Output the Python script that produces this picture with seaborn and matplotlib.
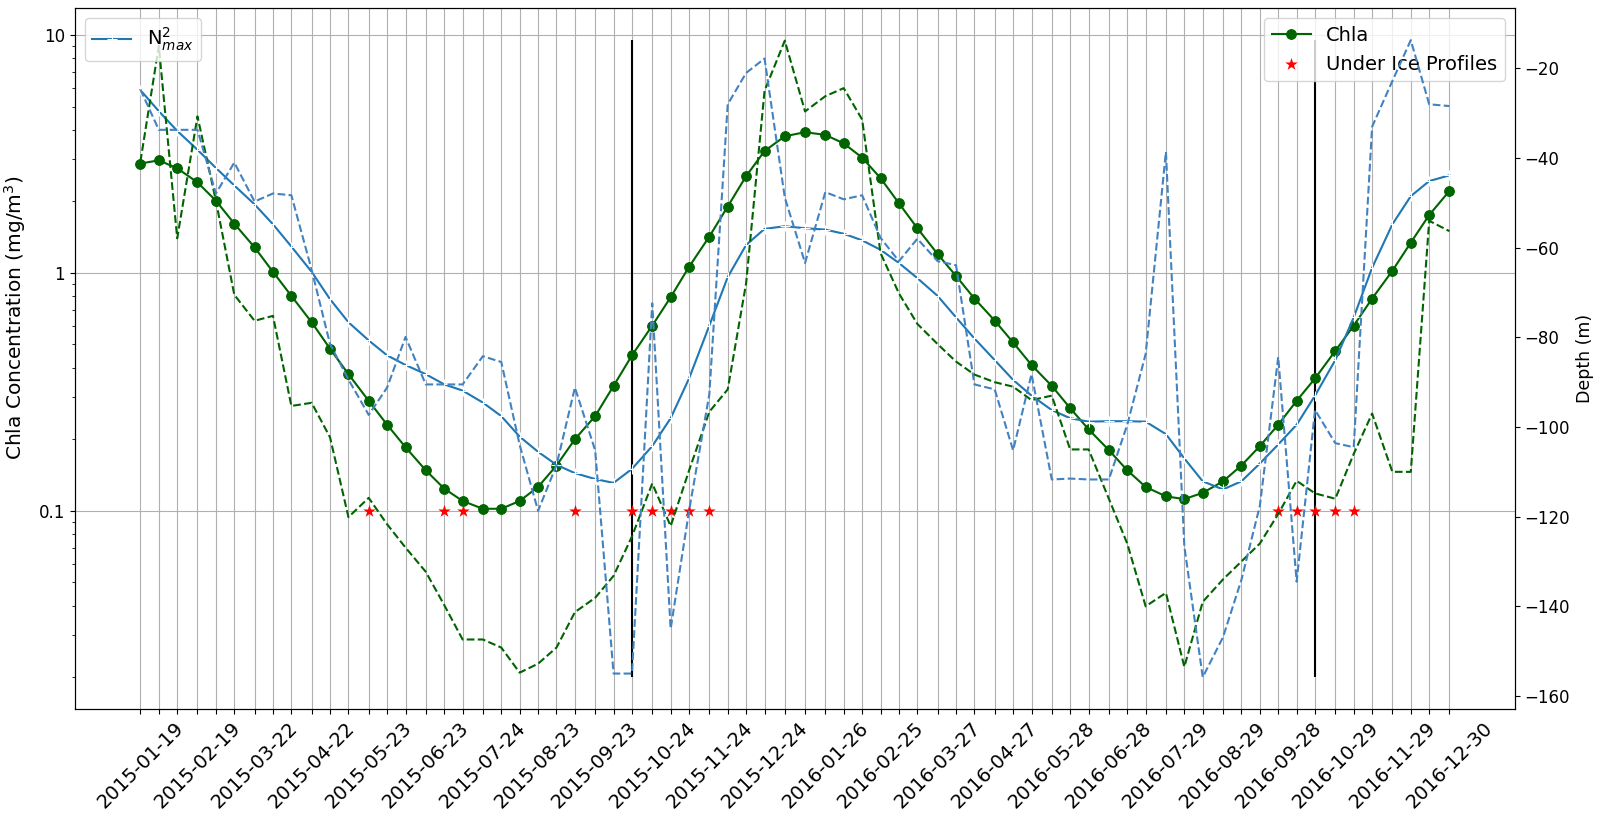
import matplotlib
matplotlib.use("Agg")
import matplotlib.pyplot as plt
import matplotlib.ticker as mticker
import numpy as np
import pandas as pd
import seaborn as sns

# Sampling dates of the float profiles
dates = pd.to_datetime([
    "2015-01-19", "2015-01-29", "2015-02-08", "2015-02-19", "2015-03-01", "2015-03-11",
    "2015-03-22", "2015-04-01", "2015-04-11", "2015-04-22", "2015-05-02", "2015-05-12",
    "2015-05-23", "2015-06-02", "2015-06-12", "2015-06-23", "2015-07-03", "2015-07-13",
    "2015-07-24", "2015-08-03", "2015-08-13", "2015-08-23", "2015-09-02", "2015-09-12",
    "2015-09-23", "2015-10-03", "2015-10-13", "2015-10-24", "2015-11-03", "2015-11-13",
    "2015-11-24", "2015-12-04", "2015-12-14", "2015-12-24", "2016-01-04", "2016-01-15",
    "2016-01-26", "2016-02-05", "2016-02-15", "2016-02-25", "2016-03-06", "2016-03-16",
    "2016-03-27", "2016-04-06", "2016-04-16", "2016-04-27", "2016-05-07", "2016-05-17",
    "2016-05-28", "2016-06-07", "2016-06-17", "2016-06-28", "2016-07-08", "2016-07-18",
    "2016-07-29", "2016-08-08", "2016-08-18", "2016-08-29", "2016-09-08", "2016-09-18",
    "2016-09-28", "2016-10-08", "2016-10-18", "2016-10-29", "2016-11-08", "2016-11-18",
    "2016-11-29", "2016-12-09", "2016-12-19", "2016-12-30",
])

# Smoothed chlorophyll-a concentration (mg/m3)
chla = [
    2.88, 2.97, 2.75, 2.40, 2.01, 1.61, 1.28, 1.01, 0.80, 0.62,
    0.48, 0.375, 0.29, 0.23, 0.185, 0.148, 0.124, 0.110, 0.102, 0.102,
    0.110, 0.126, 0.155, 0.200, 0.250, 0.335, 0.450, 0.600, 0.790, 1.06,
    1.42, 1.90, 2.55, 3.25, 3.75, 3.90, 3.80, 3.50, 3.05, 2.50,
    1.96, 1.54, 1.20, 0.97, 0.78, 0.63, 0.51, 0.41, 0.335, 0.27,
    0.22, 0.18, 0.148, 0.126, 0.115, 0.112, 0.119, 0.133, 0.155, 0.187,
    0.23, 0.29, 0.36, 0.47, 0.60, 0.78, 1.02, 1.34, 1.75, 2.21,
]

# Smoothed maximum of the buoyancy frequency squared
n2_max = [
    5.86, 4.78, 3.95, 3.29, 2.76, 2.33, 1.94, 1.60, 1.29, 1.01,
    0.775, 0.62, 0.52, 0.45, 0.41, 0.375, 0.34, 0.32, 0.285, 0.25,
    0.205, 0.177, 0.156, 0.144, 0.136, 0.131, 0.150, 0.187, 0.245, 0.36,
    0.60, 0.96, 1.31, 1.53, 1.57, 1.54, 1.52, 1.46, 1.37, 1.25,
    1.10, 0.95, 0.80, 0.65, 0.53, 0.43, 0.355, 0.305, 0.265, 0.245,
    0.237, 0.238, 0.238, 0.237, 0.21, 0.166, 0.133, 0.123, 0.133, 0.158,
    0.19, 0.23, 0.305, 0.43, 0.65, 1.05, 1.60, 2.10, 2.43, 2.57,
]

# Depth of the chlorophyll maximum (m)
chla_max_depth = [
    -40.8, -15.0, -57.9, -30.7, -49.5, -70.5, -76.3, -75.2, -95.3, -94.6,
    -102.3, -120.1, -115.8, -121.7, -126.9, -132.3, -139.7, -147.4, -147.4, -149.2,
    -154.8, -152.8, -149.2, -141.3, -138.1, -133.2, -124.4, -112.6, -122.1, -109.7,
    -96.6, -91.6, -67.9, -25.0, -13.8, -29.6, -26.2, -24.4, -31.4, -61.2,
    -70.2, -77.0, -81.5, -85.4, -88.3, -90.0, -91.0, -94.0, -93.0, -105.0,
    -105.0, -116.0, -126.0, -140.0, -137.0, -153.5, -139.0, -134.0, -130.0, -126.0,
    -119.4, -112.0, -114.8, -116.0, -106.0, -97.0, -110.0, -110.0, -54.0, -56.3,
]

# Depth of the N2 maximum (m)
n2_max_depth = [
    -24.7, -33.7, -33.7, -33.7, -47.9, -41.0, -49.7, -47.9, -48.3, -64.9,
    -81.5, -89.4, -97.3, -91.2, -79.9, -90.5, -90.5, -90.5, -84.2, -85.5,
    -104.0, -118.7, -108.5, -91.2, -105.2, -155.0, -155.0, -72.4, -145.0, -118.7,
    -92.7, -28.0, -21.0, -17.8, -48.8, -63.4, -47.6, -49.2, -48.3, -57.8,
    -63.0, -58.0, -63.0, -63.9, -90.5, -91.6, -105.2, -88.2, -111.7, -111.5,
    -111.7, -111.7, -99.5, -83.7, -38.6, -126.6, -155.8, -146.9, -134.1, -117.6,
    -84.4, -134.5, -96.2, -103.6, -104.5, -33.0, -22.8, -13.7, -28.0, -28.4,
]

# Profiles taken under sea ice, flagged on the 0.1 mg/m3 line
under_ice_dates = pd.to_datetime([
    "2015-05-23", "2015-07-03", "2015-07-13", "2015-09-12", "2015-10-13",
    "2015-10-24", "2015-11-03", "2015-11-13", "2015-11-24",
    "2016-09-28", "2016-10-08", "2016-10-18", "2016-10-29", "2016-11-08",
])
under_ice_level = 0.1

# Ice-edge markers drawn as vertical bars
ice_edge_dates = pd.to_datetime(["2015-10-13", "2016-10-18"])
ice_edge_low, ice_edge_high = 0.02, 9.5

tick_labels = [d.strftime("%Y-%m-%d") if i % 3 == 0 else "" for i, d in enumerate(dates)]

fig = plt.figure(figsize=(15.98, 8.17), dpi=100)
ax1 = fig.add_axes([0.0469, 0.1322, 0.9011, 0.8576])
ax1.set_yscale("log")

ax1.vlines(ice_edge_dates, ice_edge_low, ice_edge_high, color="black", linewidth=1.5)

sns.lineplot(x=dates, y=chla, ax=ax1, color="darkgreen", marker="o",
             markersize=7, markeredgecolor="darkgreen", linewidth=1.5)
chla_line = ax1.lines[-1]

sns.scatterplot(x=under_ice_dates, y=[under_ice_level] * len(under_ice_dates), ax=ax1,
                marker="*", color="red", s=90, linewidth=0, zorder=3)
ice_pts = ax1.collections[-1]

sns.lineplot(x=dates, y=n2_max, ax=ax1, color="#1f77b4", marker="+",
             markersize=7, linewidth=1.5)
n2_line = ax1.lines[-1]

# log-space limits spanning the ice-edge bars with a 5 % margin
lo, hi = np.log10(ice_edge_low), np.log10(ice_edge_high)
pad = 0.05 * (hi - lo)
ax1.set_ylim(10 ** (lo - pad), 10 ** (hi + pad))

ax1.yaxis.set_major_formatter(mticker.FuncFormatter(lambda v, p: f"{v:g}"))
ax1.yaxis.set_minor_formatter(mticker.NullFormatter())
ax1.set_ylabel("Chla Concentration (mg/m$^3$)", fontsize=14.5)
ax1.yaxis.set_label_coords(-0.0325, 0.558)
ax1.set_xticks(dates)
ax1.set_xticklabels(tick_labels, rotation=45, fontsize=14)
ax1.tick_params(axis="y", labelsize=12)
ax1.grid(True, which="major", color="#b0b0b0", linewidth=0.8)
ax1.set_xlabel("")

ax1.legend([chla_line, ice_pts], ["Chla", "Under Ice Profiles"],
           loc="upper right", fontsize=14)

ax2 = ax1.twinx()
sns.lineplot(x=dates, y=chla_max_depth, ax=ax2, color="darkgreen",
             linestyle="--", linewidth=1.5)
sns.lineplot(x=dates, y=n2_max_depth, ax=ax2, color="#4382c0",
             linestyle="--", linewidth=1.5)
ax2.set_ylabel("Depth (m)", fontsize=12.5)
ax2.tick_params(axis="y", labelsize=12)
ax2.legend([n2_line], [r"N$^2_{max}$"], loc="upper left", fontsize=14)

fig.savefig("out.png", dpi=100)
